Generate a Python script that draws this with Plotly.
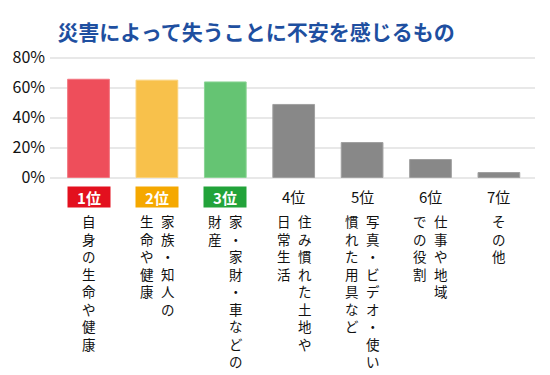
import plotly.graph_objects as go

categories = ["自身の生命や健康", "家族・知人の生命や健康", "家・家財・車などの財産",
              "住み慣れた土地や日常生活", "写真・ビデオ・使い慣れた用具など",
              "仕事や地域での役割", "その他"]
values = [65.5, 64.9, 63.7, 48.7, 23.3, 12.0, 3.3]
ranks = ["1位", "2位", "3位", "4位", "5位", "6位", "7位"]
# label columns (right column first, as in vertical Japanese writing)
label_columns = [
    ["自身の生命や健康"],
    ["家族・知人の", "生命や健康"],
    ["家・家財・車などの", "財産"],
    ["住み慣れた土地や", "日常生活"],
    ["写真・ビデオ・使い", "慣れた用具など"],
    ["仕事や地域", "での役割"],
    ["その他"],
]
y_ticks = [0, 20, 40, 60, 80]
y_tick_labels = ["0%", "20%", "40%", "60%", "80%"]

bar_colors = ["#ee4e5b", "#f8c14b", "#65c473", "#888888", "#888888", "#888888", "#888888"]
bar_lines = ["#f27680", "#fad27a", "#8ad494", "#a0a0a0", "#a0a0a0", "#a0a0a0", "#a0a0a0"]
rank_bg = ["#e3101e", "#f5a800", "#22a33a", None, None, None, None]

FONT = "Noto Sans CJK JP"

x = list(range(len(categories)))
fig = go.Figure()
fig.add_trace(go.Bar(
    x=x, y=values, width=0.61,
    marker=dict(color=bar_colors, line=dict(color=bar_lines, width=1)),
    hoverinfo="skip",
))

annotations = []
for i, (r, bg) in enumerate(zip(ranks, rank_bg)):
    if bg:
        annotations.append(dict(
            x=i, y=0, xref="x", yref="y", yshift=-19, yanchor="middle",
            text="<b>" + r + "</b>", showarrow=False,
            font=dict(family=FONT, size=15, color="white"),
            bgcolor=bg, width=42, height=20, borderpad=0,
        ))
    else:
        annotations.append(dict(
            x=i, y=0, xref="x", yref="y", yshift=-19, yanchor="middle",
            text=r, showarrow=False,
            font=dict(family=FONT, size=15, color="#111111"),
        ))
    cols = label_columns[i]
    n = len(cols)
    for j, col in enumerate(cols):
        shift = 0 if n == 1 else (11 if j == 0 else -10)
        annotations.append(dict(
            x=i, y=0, xref="x", yref="y",
            yshift=-31, xshift=shift,
            yanchor="top", xanchor="center", align="center",
            text="<br>".join(list(col)), showarrow=False,
            font=dict(family=FONT, size=13.5, color="#111111"),
        ))

fig.update_layout(
    width=550, height=375,
    margin=dict(l=42, r=23, t=48, b=204),
    paper_bgcolor="white", plot_bgcolor="white",
    showlegend=False,
    title=dict(
        text="<b>災害によって失うことに不安を感じるもの</b>",
        x=0.451, xanchor="center", y=0.934, yanchor="middle",
        font=dict(family=FONT, size=21, color="#1e4fa0"),
    ),
    xaxis=dict(range=[-0.563, 6.528], showticklabels=False, showgrid=False,
               zeroline=False, fixedrange=True, automargin=False),
    yaxis=dict(range=[-1, 81], tickvals=y_ticks, ticktext=y_tick_labels,
               showgrid=True, gridcolor="#e8e8e8", gridwidth=2, zeroline=False,
               tickfont=dict(family=FONT, size=16, color="#111111"),
               ticklabelstandoff=4, automargin=False),
    annotations=annotations,
    bargap=0.39,
)

fig.write_html("out.html")
